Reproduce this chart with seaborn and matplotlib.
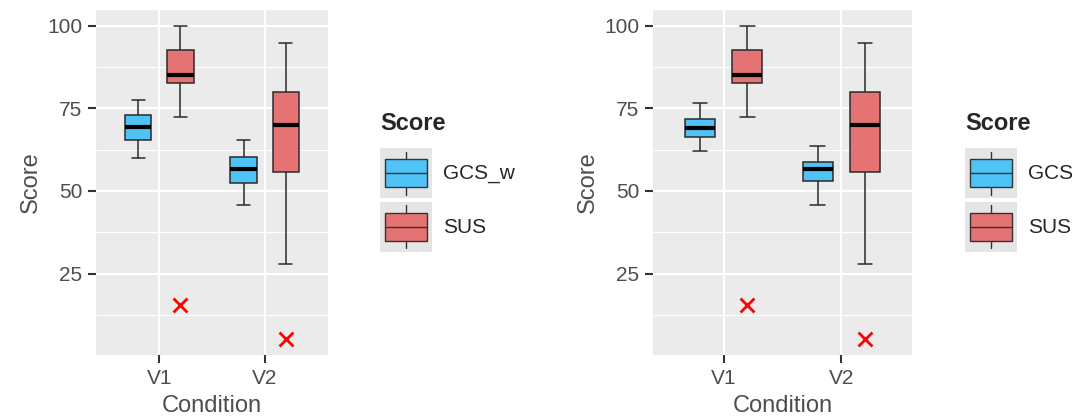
import numpy as np
import pandas as pd
import matplotlib
matplotlib.use("Agg")
import matplotlib.pyplot as plt
import seaborn as sns
from matplotlib.legend_handler import HandlerBase
from matplotlib.patches import Patch, Rectangle
from matplotlib.lines import Line2D

# ==========================
# Data
# ==========================
conditions = ["V1", "V2"]
# five-number summaries: lower whisker, Q1, median, Q3, upper whisker
gcs_w_v1 = [60.0, 65.4, 69.2, 72.9, 77.5]
gcs_w_v2 = [45.6, 52.4, 56.5, 60.3, 65.4]
gcs_v1 = [62.0, 66.2, 69.0, 71.9, 76.7]
gcs_v2 = [45.6, 53.0, 56.5, 58.8, 63.7]
sus_v1 = [72.3, 82.6, 85.0, 92.5, 100.0]
sus_v2 = [27.8, 55.8, 69.9, 79.8, 94.9]
# outliers of SUS (V1, V2)
sus_outliers = [15.4, 5.1]

blue = "#4FC3F7"
red = "#E57373"
grey_text = "#4D4D4D"

sns.set_theme(style="darkgrid", rc={
    "axes.facecolor": "#EBEBEB",
    "grid.color": "white",
    "axes.edgecolor": "none",
})
plt.rcParams["font.family"] = ["Liberation Sans", "DejaVu Sans"]


def make_df(name, v1, v2):
    rows = []
    for cond, vals in zip(conditions, [v1, v2]):
        rows += [(cond, name, v) for v in vals]
    for cond, vals in zip(conditions, [sus_v1, sus_v2]):
        rows += [(cond, "SUS", v) for v in vals]
    return pd.DataFrame(rows, columns=["Condition", "Type", "Value"])


class BoxKey(HandlerBase):
    # ggplot-like boxplot legend key
    def create_artists(self, legend, orig_handle, xdescent, ydescent,
                       width, height, fontsize, trans):
        x0, y0 = -xdescent, -ydescent
        bg = Rectangle((x0, y0), width, height, facecolor="#E5E5E5",
                       edgecolor="none", transform=trans)
        cx = x0 + width / 2
        wl = Line2D([cx, cx], [y0 + 0.07 * height, y0 + 0.93 * height],
                    color="#333333", lw=1, transform=trans)
        box = Rectangle((x0 + 0.1 * width, y0 + 0.22 * height), 0.8 * width,
                        0.56 * height, facecolor=orig_handle.get_facecolor(),
                        edgecolor="#333333", lw=1, transform=trans)
        med = Line2D([x0 + 0.1 * width, x0 + 0.9 * width],
                     [y0 + height / 2] * 2, color="#333333", lw=1,
                     transform=trans)
        return [bg, wl, box, med]


def draw_panel(ax, name, v1, v2):
    df = make_df(name, v1, v2)
    order = [name, "SUS"]
    sns.boxplot(data=df, x="Condition", y="Value", hue="Type",
                order=conditions, hue_order=order,
                palette={name: blue, "SUS": red}, saturation=1,
                width=0.8, gap=0.375, whis=(0, 100), fliersize=0,
                linewidth=1.1, linecolor="#2B2B2B",
                medianprops={"color": "black", "linewidth": 3.0},
                legend=False, ax=ax)
    out = pd.DataFrame({"Condition": conditions, "Type": "SUS",
                        "Value": sus_outliers})
    sns.stripplot(data=out, x="Condition", y="Value", hue="Type",
                  order=conditions, hue_order=order,
                  palette={name: "red", "SUS": "red"},
                  dodge=True, jitter=False, marker="x", size=10,
                  linewidth=2, legend=False, ax=ax)

    allv = np.concatenate([df["Value"].values, sus_outliers])
    lo, hi = allv.min(), allv.max()
    pad = 0.05 * (hi - lo)
    ax.set_ylim(lo - pad, hi + pad)
    ax.set_xlim(-0.6, 1.6)
    ax.set_yticks([25, 50, 75, 100])
    ax.set_yticks([12.5, 37.5, 62.5, 87.5], minor=True)
    ax.grid(which="major", color="white", lw=1.5)
    ax.grid(which="minor", axis="y", color="white", lw=0.8)
    ax.grid(which="major", axis="x", color="white", lw=1.5)
    ax.tick_params(which="major", length=6, width=1.5, color="#333333",
                   labelsize=15, labelcolor=grey_text, pad=4,
                   left=True, bottom=True)
    ax.tick_params(which="minor", length=0)
    ax.set_xlabel("Condition", fontsize=17, color=grey_text, labelpad=5)
    ax.set_ylabel("Score", fontsize=17, color=grey_text, labelpad=4)
    for s in ax.spines.values():
        s.set_visible(False)

    handles = [Patch(facecolor=blue), Patch(facecolor=red)]
    return handles, order


fig = plt.figure(figsize=(10.78, 4.19), dpi=100)
W, H = 1078, 419
ax1 = fig.add_axes([96 / W, 64 / H, 232 / W, 345 / H])
ax2 = fig.add_axes([653 / W, 64 / H, 259 / W, 345 / H])

panels = [(ax1, "GCS_w", gcs_w_v1, gcs_w_v2, 380),
          (ax2, "GCS", gcs_v1, gcs_v2, 965)]
for ax, name, v1, v2, lx in panels:
    handles, labels = draw_panel(ax, name, v1, v2)
    leg = fig.legend(handles=handles, labels=labels,
                     handler_map={Patch: BoxKey()},
                     title="Score",
                     title_fontproperties={"weight": "bold", "size": 17},
                     fontsize=15, loc="upper left",
                     bbox_to_anchor=(lx / W, (H - 112) / H),
                     frameon=False, borderpad=0, borderaxespad=0,
                     handlelength=2.5, handleheight=3.3,
                     labelspacing=0.19, handletextpad=0.53,
                     alignment="left")
    leg._legend_box.sep = 9.5

fig.savefig("out.png", dpi=100)
